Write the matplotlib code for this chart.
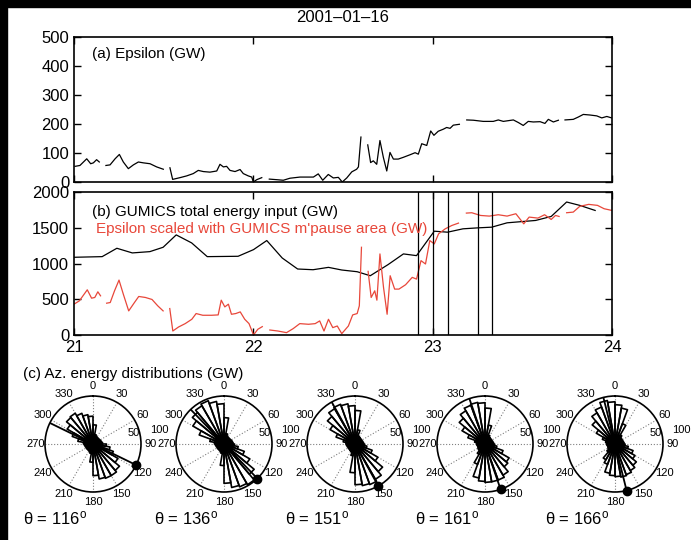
import numpy as np
import matplotlib
matplotlib.use('Agg')
import matplotlib.pyplot as plt
from matplotlib.patches import Rectangle

nan = np.nan

# (a) Epsilon, GW  (nan = data gap)
eps_hours = [21.006, 21.033, 21.071, 21.093, 21.108, 21.126, 21.141, nan,
             21.178, 21.201, 21.229, 21.253, 21.275, 21.303, 21.331, 21.359, 21.387, 21.424, 21.461, 21.498, nan,
             21.535, 21.550, 21.591, 21.628, 21.665, 21.693, 21.721, 21.758, 21.796, 21.814, 21.833, 21.851,
             21.870, 21.898, 21.926, 21.944, 21.972, 21.991, 22.000, 22.019, 22.047, nan,
             22.089, 22.130, 22.167, 22.204, 22.260, 22.335, 22.362, 22.387, 22.418, 22.446, 22.474, 22.496,
             22.521, 22.549, 22.576, 22.586, 22.600, nan,
             22.638, 22.654, 22.669, 22.688, 22.706, 22.725, 22.744, 22.762, 22.781, 22.808, 22.836, 22.874,
             22.902, 22.920, 22.939, 22.967, 22.989, 23.007, 23.031, 23.059, 23.078, 23.097, 23.115, 23.149, nan,
             23.190, 23.227, 23.282, 23.338, 23.366, 23.394, 23.450, 23.478, 23.505, 23.533, 23.561, 23.599,
             23.626, 23.645, 23.673, 23.701, nan,
             23.738, 23.784, 23.812, 23.840, 23.877, 23.915, 23.943, 23.971, 23.998]
eps_vals = [54, 57, 80, 63, 66, 77, 69, nan,
            57, 59, 80, 95, 69, 46, 59, 69, 66, 63, 52, 44, nan,
            49, 9, 15, 21, 29, 40, 36, 34, 38, 61, 52, 54,
            40, 36, 43, 29, 21, 17, 0, 8, 15, nan,
            10, 8, 6, 13, 17, 17, 28, 6, 26, 14, 16, 0,
            14, 35, 44, 52, 155, nan,
            128, 67, 73, 61, 143, 85, 38, 102, 79, 79, 85, 94,
            101, 96, 132, 126, 176, 161, 175, 182, 188, 185, 196, 199, nan,
            214, 213, 209, 209, 214, 209, 214, 205, 195, 209, 207, 208,
            202, 216, 207, 213, nan,
            214, 216, 224, 233, 231, 228, 221, 226, 221]

# (b) GUMICS total energy input, GW
gum_hours = [21.0, 21.157, 21.239, 21.325, 21.423, 21.497, 21.570, 21.656, 21.743, 21.915, 22.001,
             22.075, 22.161, 22.247, 22.333, 22.419, 22.493, 22.579, 22.652, 22.751, 22.837, 22.910,
             23.009, 23.083, 23.169, 23.255, 23.329, 23.415, 23.574, 23.661, 23.747, 23.820, 23.906]
gum_vals = [1087, 1096, 1213, 1148, 1166, 1227, 1400, 1288, 1096, 1101, 1194,
            1321, 1077, 923, 913, 946, 909, 885, 829, 984, 1134, 1110,
            1452, 1438, 1485, 1499, 1508, 1569, 1602, 1658, 1860, 1813, 1742]

# (b) Epsilon scaled with GUMICS magnetopause area, GW
scl_hours = [21.0, 21.03, 21.074, 21.098, 21.116, 21.133, 21.148, nan,
             21.182, 21.202, 21.226, 21.251, 21.275, 21.305, 21.337, 21.361, 21.398, 21.435, 21.467, 21.497, nan,
             21.534, 21.551, 21.583, 21.620, 21.657, 21.681, 21.718, 21.767, 21.804, 21.821, 21.841, 21.861,
             21.878, 21.902, 21.927, 21.952, 21.976, 22.001, 22.025, 22.050, nan,
             22.092, 22.136, 22.185, 22.222, 22.259, 22.308, 22.345, 22.370, 22.394, 22.419, 22.443, 22.468,
             22.493, 22.530, 22.554, 22.579, 22.591, 22.603, nan,
             22.640, 22.657, 22.677, 22.689, 22.706, 22.726, 22.746, 22.763, 22.788, 22.812, 22.849, 22.886,
             22.910, 22.935, 22.960, 22.984, 23.009, 23.033, 23.070, 23.107, 23.144, nan,
             23.188, 23.218, 23.267, 23.316, 23.366, 23.415, 23.464, 23.508, 23.538, 23.587, 23.624, 23.661,
             23.685, 23.705, nan,
             23.747, 23.784, 23.820, 23.870, 23.919, 23.956, 24.0]
scl_vals = [431, 478, 632, 515, 525, 604, 548, nan,
            445, 454, 618, 768, 571, 337, 454, 539, 525, 497, 408, 337, nan,
            370, 56, 112, 159, 220, 300, 276, 276, 281, 487, 393, 431,
            290, 300, 323, 220, 159, 0, 80, 117, nan,
            70, 56, 33, 89, 159, 150, 159, 197, 56, 220, 103, 126,
            19, 126, 281, 300, 408, 1227, nan,
            890, 525, 618, 487, 1134, 665, 290, 829, 642, 642, 703, 806,
            782, 1040, 993, 1321, 1274, 1415, 1485, 1532, 1565, nan,
            1705, 1710, 1672, 1663, 1682, 1663, 1696, 1555, 1649, 1635, 1682, 1616,
            1672, 1658, nan,
            1710, 1719, 1799, 1827, 1813, 1766, 1742]

# times of the azimuthal distributions
snap_hours = [22.917, 23.0, 23.083, 23.25, 23.333]

# (c) azimuthal energy distributions, 10 degree bins starting at 0 (clockwise from top)
theta_deg = [116, 136, 151, 161, 166]
rose_1 = [40, 20, 17, 16, 16, 16, 17, 18, 20, 28, 36, 45, 60, 72, 76, 76, 74, 66,
          38, 20, 17, 16, 16, 16, 16, 17, 18, 20, 32, 46, 62, 72, 74, 68, 62, 58]
rose_2 = [55, 22, 17, 16, 16, 16, 17, 18, 19, 22, 30, 45, 62, 82, 98, 95, 92, 82,
          45, 20, 17, 16, 16, 16, 16, 17, 18, 20, 30, 55, 75, 86, 92, 96, 90, 84]
rose_3 = [70, 30, 18, 17, 16, 16, 16, 17, 18, 20, 25, 38, 55, 75, 85, 90, 88, 85,
          60, 25, 18, 17, 16, 16, 16, 17, 18, 19, 25, 42, 60, 75, 85, 88, 85, 80]
rose_4 = [75, 40, 20, 17, 16, 16, 16, 17, 18, 20, 25, 40, 58, 62, 75, 80, 80, 80,
          78, 72, 45, 25, 18, 17, 16, 16, 17, 18, 22, 38, 55, 70, 80, 86, 88, 86]
rose_5 = [82, 76, 45, 22, 18, 17, 17, 18, 19, 21, 28, 40, 48, 58, 64, 68, 70, 68,
          66, 62, 45, 38, 22, 17, 16, 16, 17, 18, 20, 28, 45, 62, 75, 82, 92, 88]
roses = [rose_1, rose_2, rose_3, rose_4, rose_5]

hour_ticks = [21, 22, 23, 24]
red = '#e8473a'

plt.rcParams['font.family'] = ['Liberation Sans', 'DejaVu Sans']
plt.rcParams['mathtext.fontset'] = 'custom'
plt.rcParams['mathtext.rm'] = 'Liberation Sans'
plt.rcParams['mathtext.it'] = 'Liberation Sans:italic'

W, H = 691, 540
fig = plt.figure(figsize=(W / 100, H / 100), dpi=100)


def box(left, top, w, h):
    # pixel box -> figure fraction
    return [left / W, 1 - (top + h) / H, w / W, h / H]


ax_a = fig.add_axes(box(74, 37, 538, 145))
ax_b = fig.add_axes(box(74, 192, 538, 143))
for ax in (ax_a, ax_b):
    ax.set_xlim(21, 24)
    ax.set_xticks(hour_ticks)
    ax.tick_params(direction='in', top=True, right=True, length=5, width=1, labelsize=12)
    for s in ax.spines.values():
        s.set_linewidth(1.2)

ax_a.plot(eps_hours, eps_vals, color='k', lw=0.9)
ax_a.set_ylim(0, 500)
ax_a.set_yticks(range(0, 501, 100))
ax_a.set_xticklabels([])
ax_a.text(0.033, 0.885, '(a) Epsilon (GW)', transform=ax_a.transAxes, fontsize=11, va='center')

ax_b.plot(gum_hours, gum_vals, color='k', lw=0.9)
ax_b.plot(scl_hours, scl_vals, color=red, lw=0.9)
for t in snap_hours:
    ax_b.axvline(t, color='k', lw=0.9)
ax_b.set_ylim(0, 2000)
ax_b.set_yticks(range(0, 2001, 500))
ax_b.text(0.033, 0.86, '(b) GUMICS total energy input (GW)', transform=ax_b.transAxes,
          fontsize=11, va='center')
ax_b.text(0.041, 0.742, "Epsilon scaled with GUMICS m'pause area (GW)", transform=ax_b.transAxes,
          fontsize=11, va='center', color=red)

fig.text(343 / W, 1 - 18 / H, '2001\u201301\u201316', ha='center', va='center', fontsize=12)
fig.text(23 / W, 1 - 374 / H, '(c) Az. energy distributions (GW)', va='center', fontsize=11)

centers = [93, 224, 355, 485, 615]
for c, th, rose in zip(centers, theta_deg, roses):
    pax = fig.add_axes(box(c - 48, 396, 96, 96), projection='polar')
    pax.set_theta_zero_location('N')
    pax.set_theta_direction(-1)
    pax.set_ylim(0, 100)
    pax.set_xticks([])
    pax.set_yticks([])
    pax.spines['polar'].set_linewidth(1.2)
    for a in range(0, 360, 30):
        pax.plot([np.radians(a)] * 2, [0, 100], ls=':', color='0.5', lw=0.8)
        pax.text(np.radians(a), 120, str(a), ha='center', va='center', fontsize=8, clip_on=False)
    pax.text(np.radians(75), 88, '50', ha='center', va='center', fontsize=8, clip_on=False)
    pax.text(np.radians(78), 141, '100', ha='center', va='center', fontsize=8, clip_on=False)
    for k, r in enumerate(rose):
        e0, e1 = np.radians(10 * k), np.radians(10 * k + 10)
        pax.plot([e0, e0, e1, e1], [0, r, r, 0], color='k', lw=1.2)
    pax.plot([np.radians(th + 180), np.radians(th)], [100, 100], color='k', lw=1.3)
    pax.plot(np.radians(th), 100, 'o', color='k', ms=6, clip_on=False)
    fig.text((c - 70) / W, 1 - 518 / H, '\u03b8 = %d$^{\\rm o}$' % th, va='center', fontsize=12)

# dark strips at top and left edge of the original picture
fig.add_artist(Rectangle((0, 1 - 7 / H), 1, 7 / H, transform=fig.transFigure, color='k', zorder=10))
fig.add_artist(Rectangle((0, 0), 7 / W, 1, transform=fig.transFigure, color='k', zorder=10))

fig.savefig('out.png', dpi=100)
